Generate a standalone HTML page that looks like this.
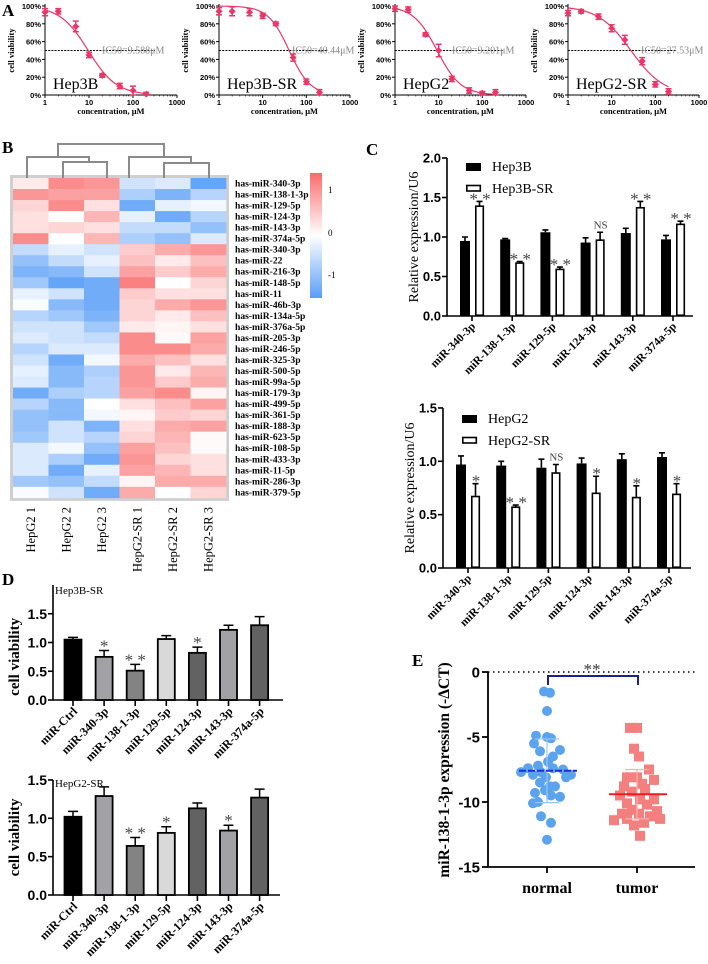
<!DOCTYPE html>
<html><head><meta charset="utf-8"><style>
html,body{margin:0;padding:0;background:#fff;}
svg{display:block;}
</style></head><body>
<svg id="fig" xmlns="http://www.w3.org/2000/svg" width="708" height="964" viewBox="0 0 708 964"></svg>
<script>
// ---------- DATA ----------
const concs = [1,2,5,10,20,50,100,200];
const hep3bVals = [93,94,77,45,22,10,5,1];
const hep3bErr = [4,3,6,3,2,3,5,2];
const hep3bSrVals = [94,94,93,89,80,42,15,3];
const hep3bSrErr = [4,5,4,3,2,4,3,3];
const hepg2Vals = [97,96,68,50,18,5,2,3];
const hepg2Err = [3,3,2,7,3,3,2,3];
const hepg2SrVals = [92,94,88,75,62,38,12,4];
const hepg2SrErr = [3,2,3,4,5,4,3,3];
const ic50s = [9.588,40.44,9.201,27.53];
const hills = [1.35,1.8,1.6,1.15];
const ic50Labels = ["IC50=9.588μM","IC50=40.44μM","IC50=9.201μM","IC50=27.53μM"];
const cellNames = ["Hep3B","Hep3B-SR","HepG2","HepG2-SR"];
const pctTicks = [0,20,40,60,80,100];
const concTicks = [1,10,100,1000];

const heatRows = ["has-miR-340-3p","has-miR-138-1-3p","has-miR-129-5p","has-miR-124-3p","has-miR-143-3p","has-miR-374a-5p","has-miR-340-3p","has-miR-22","has-miR-216-3p","has-miR-148-5p","has-miR-11","has-miR-46b-3p","has-miR-134a-5p","has-miR-376a-5p","has-miR-205-3p","has-miR-246-5p","has-miR-325-3p","has-miR-500-5p","has-miR-99a-5p","has-miR-179-3p","has-miR-499-5p","has-miR-361-5p","has-miR-188-3p","has-miR-623-5p","has-miR-108-5p","has-miR-433-3p","has-miR-11-5p","has-miR-286-3p","has-miR-379-5p"];
const heatCols = ["HepG2 1","HepG2 2","HepG2 3","HepG2-SR 1","HepG2-SR 2","HepG2-SR 3"];
const heatVals = [
[0.2,1.1,1.0,-0.4,-0.3,-1.3],[1.0,0.9,0.9,-0.7,-1.1,-0.6],[0.4,1.1,0.3,-1.2,-0.2,-0.1],[0.3,0.0,0.7,-0.2,-1.2,-0.6],
[0.3,0.4,0.3,-0.5,-0.5,-0.9],[1.1,0.0,0.7,-0.7,-0.9,-0.3],[-0.5,-0.2,-0.4,0.5,0.8,1.0],[-0.9,-0.5,-0.2,0.6,0.2,0.6],
[-1.1,-1.0,-0.4,0.9,0.5,0.8],[-0.8,-1.3,-1.2,1.2,0.0,0.4],[-0.2,-0.4,-1.2,0.5,0.3,0.3],[-0.05,-1.0,-1.2,0.4,0.8,1.0],
[-0.6,-0.8,-1.1,0.4,0.2,0.6],[-0.4,-0.4,-0.8,0.2,0.1,0.3],[-0.3,-0.4,-0.5,1.1,0.05,0.9],[-0.6,-0.3,-0.3,1.1,1.1,0.8],
[-0.4,-1.2,-0.1,0.8,0.6,0.3],[-0.2,-1.0,-0.7,1.0,0.2,0.7],[-0.3,-1.0,-0.6,1.0,0.5,0.8],[-1.2,-0.7,-0.6,0.9,1.1,0.1],
[-0.6,-1.0,0.0,0.3,0.6,0.9],[-0.9,-1.0,-0.1,0.1,0.5,0.4],[-0.9,-0.4,-1.1,0.3,0.8,0.9],[-0.8,-0.4,-0.6,0.4,0.7,0.05],
[-0.3,-0.1,-0.9,0.9,0.6,0.05],[-0.3,-0.7,-1.2,1.0,0.4,0.3],[-0.3,-1.2,-0.2,0.9,0.7,0.3],[-0.8,-0.9,-0.5,0.1,0.8,0.8],
[-0.05,-0.4,-1.2,0.8,0.0,0.4]];

const cCats = ["miR-340-3p","miR-138-1-3p","miR-129-5p","miR-124-3p","miR-143-3p","miR-374a-5p"];
const c1Ctrl = [0.95,0.97,1.06,0.93,1.05,0.97];
const c1CtrlErr = [0.05,0.01,0.03,0.06,0.06,0.05];
const c1Sr = [1.39,0.67,0.59,0.96,1.37,1.16];
const c1SrErr = [0.06,0.02,0.03,0.10,0.08,0.04];
const c1Sig = ["* *","* *","* *","NS","* *","* *"];
const c1Ticks = [0,0.5,1.0,1.5,2.0];
const c2Ctrl = [0.97,0.96,0.94,0.98,1.02,1.04];
const c2CtrlErr = [0.08,0.04,0.08,0.05,0.05,0.04];
const c2Sr = [0.67,0.57,0.89,0.70,0.66,0.69];
const c2SrErr = [0.12,0.02,0.08,0.16,0.11,0.10];
const c2Sig = ["*","* *","NS","*","*","*"];
const c2Ticks = [0,0.5,1.0,1.5];

const dCats = ["miR-Ctrl","miR-340-3p","miR-138-1-3p","miR-129-5p","miR-124-3p","miR-143-3p","miR-374a-5p"];
const d1Vals = [1.05,0.75,0.51,1.06,0.82,1.22,1.30];
const d1Err = [0.04,0.11,0.11,0.06,0.10,0.08,0.15];
const d1Sig = ["","*","* *","","*","",""];
const d2Vals = [1.02,1.29,0.64,0.81,1.13,0.84,1.27];
const d2Err = [0.07,0.12,0.11,0.08,0.07,0.07,0.11];
const d2Sig = ["","","* *","*","","*",""];
const dTicks = [0,0.5,1.0,1.5];
const dFills = ["#000","#a2a2a6","#838383","#d9d9d9","#626262","#a2a2a6","#626262"];

const eNormal = [-1.5,-1.6,-3.0,-4.9,-5.0,-5.1,-5.5,-6.1,-6.0,-6.5,-6.9,-7.2,-7.4,-7.4,-7.5,-7.7,-7.7,-7.9,-7.9,-8.1,-8.1,-8.5,-8.8,-8.8,-9.1,-9.3,-9.6,-9.5,-10.0,-10.1,-11.1,-11.6,-12.9];
const eNormalJit = [-3,3,0,-11,0,4,-13,-7,13,6,1,-9,-19,6,16,-26,-6,24,-14,-1,19,-7,3,8,-2,-12,13,4,-9,-14,-6,4,0];
const eTumor = [-4.3,-4.3,-5.9,-6.5,-7.5,-8.1,-8.3,-8.1,-8.6,-8.8,-9.2,-9.0,-9.5,-9.8,-9.8,-10.1,-10.2,-10.6,-10.7,-10.9,-11.4,-11.3,-11.1,-11.3,-11.8,-12.6,-11.6,-10.9];
const eTumorJit = [0,-7,-3,2,12,-10,17,0,5,-13,-5,8,-17,17,3,-10,10,-5,20,2,-23,-10,13,23,-3,3,7,-15];
const eMeans = [-7.6,-9.4];
const eSDs = [2.45,1.9];
const eTicks = [0,-5,-10,-15];

// ---------- HELPERS ----------
const NS = "http://www.w3.org/2000/svg";
const svg = document.getElementById("fig");
const SERIF = "'Liberation Serif', 'DejaVu Serif', serif";
const SANS = "'Liberation Sans', 'DejaVu Sans', sans-serif";
function mk(tag, attrs, parent) {
  const el = document.createElementNS(NS, tag);
  for (const k in attrs) el.setAttribute(k, attrs[k]);
  (parent || svg).appendChild(el);
  return el;
}
function txt(str, attrs, parent) {
  const el = mk("text", attrs, parent);
  el.textContent = str;
  return el;
}
function grp(name) {
  const g = mk("g", {});
  
  
  return g;
}

// ---------- PANEL LETTERS ----------
const letters = [["A",2,16],["B",2,153],["C",366,155],["D",2,585],["E",412,666]];
for (const L of letters) {
  const t = txt(L[0], {x:L[1], y:L[2], "font-family":SERIF, "font-weight":"bold", "font-size":17});
  
  
}

// ---------- PANEL A ----------
const aBoxes = [[45,177],[219,350],[395,526],[568,699]];
const aVals = [hep3bVals,hep3bSrVals,hepg2Vals,hepg2SrVals];
const aErrs = [hep3bErr,hep3bSrErr,hepg2Err,hepg2SrErr];
for (let p = 0; p < 4; p++) {
  const g = grp('ic50-chart-' + cellNames[p].toLowerCase());
  const x0 = aBoxes[p][0], x1 = aBoxes[p][1], yT = 6, yB = 95;
  const xs = c => x0 + Math.log10(c) / 3 * (x1 - x0);
  const ys = v => yB - v / 100 * (yB - yT);
  const ya = mk("line", {x1:x0, y1:yT-2, x2:x0, y2:yB, stroke:"#000", "stroke-width":1}, g);
  
  const xa = mk("line", {x1:x0, y1:yB, x2:x1, y2:yB, stroke:"#000", "stroke-width":1}, g);
  
  for (const t of pctTicks) {
    const l = mk("line", {x1:x0-3, y1:ys(t), x2:x0, y2:ys(t), stroke:"#000"}, g);
    
    const tl = txt(t + "%", {x:x0-4, y:ys(t)+3, "text-anchor":"end", "font-family":SANS, "font-weight":"bold", "font-size":7.5}, g);
    
  }
  for (const c of concTicks) {
    const l = mk("line", {x1:xs(c), y1:yB, x2:xs(c), y2:yB+3, stroke:"#000"}, g);
    
    const tl = txt(String(c), {x:xs(c), y:yB+10, "text-anchor":"middle", "font-family":SANS, "font-weight":"bold", "font-size":7.5}, g);
    
  }
  for (let d = 1; d < 1000; d *= 10) for (let m = 2; m < 10; m++) {
    const ml = mk("line", {x1:xs(d*m), y1:yB, x2:xs(d*m), y2:yB+1.5, stroke:"#000", "stroke-width":0.6}, g);
    
  }
  const yl = txt("cell viability", {x:0, y:0, transform:`translate(${x0-31},${(yT+yB)/2}) rotate(-90)`, "text-anchor":"middle", "font-family":SERIF, "font-weight":"bold", "font-size":8.5}, g);
  
  const xl = txt("concentration, μM", {x:(x0+x1)/2, y:yB+19, "text-anchor":"middle", "font-family":SERIF, "font-weight":"bold", "font-size":8.5}, g);
  
  const dl = mk("line", {x1:x0, y1:ys(50), x2:x1-22, y2:ys(50), stroke:"#000", "stroke-width":1, "stroke-dasharray":"2,1.2"}, g);
  
  const it = txt(ic50Labels[p], {x:x0+(p==0||p==2?57:73), y:ys(50)+3, "font-family":SERIF, "font-size":10, fill:"#888"}, g);
  
  let d = "";
  for (let i = 0; i <= 120; i++) {
    const lc = Math.log10(200) * i / 120;
    const c = Math.pow(10, lc);
    const v = 100 / (1 + Math.pow(c / ic50s[p], hills[p]));
    d += (i ? "L" : "M") + xs(c).toFixed(2) + "," + ys(v).toFixed(2);
  }
  const cv = mk("path", {d:d, fill:"none", stroke:"#e8386a", "stroke-width":1.2}, g);
  
  for (let i = 0; i < concs.length; i++) {
    const cx = xs(concs[i]), v = aVals[p][i], e = aErrs[p][i];
    const eb = mk("path", {d:`M${cx},${ys(v+e)}V${ys(Math.max(0,v-e))}M${cx-3},${ys(v+e)}h6M${cx-3},${ys(Math.max(0,v-e))}h6`, stroke:"#e8386a", "stroke-width":1.5, fill:"none"}, g);
    
    const pt = mk("rect", {x:cx-2.5, y:ys(v)-2.5, width:5, height:5, fill:"#e8386a", transform:`rotate(45 ${cx} ${ys(v)})`}, g);
    
  }
  const nm = txt(cellNames[p], {x:x0+8, y:yB-6, "font-family":SERIF, "font-size":16}, g);
  
}

// ---------- PANEL B (heatmap) ----------
const gB = grp('heatmap');
const hx0 = 13, hy0 = 178, cw = 35.5, rh = 11.03;
function heatColor(v) {
  const t = Math.min(1, Math.abs(v) / 1.4);
  const tgt = v >= 0 ? [250,108,108] : [88,158,247];
  const c = tgt.map(k => Math.round(255 + (k - 255) * t));
  return `rgb(${c[0]},${c[1]},${c[2]})`;
}
const hb = mk("rect", {x:hx0-1.5, y:hy0-1.5, width:cw*6+3, height:rh*29+3, fill:"none", stroke:"#cfcfcf", "stroke-width":3}, gB);

for (let r = 0; r < heatRows.length; r++) {
  for (let c = 0; c < heatCols.length; c++) {
    const cell = mk("rect", {x:hx0+c*cw, y:hy0+r*rh, width:cw+0.3, height:rh+0.3, fill:heatColor(heatVals[r][c])}, gB);
    
  }
  const rl = txt(heatRows[r], {x:235, y:hy0+r*rh+8.5, "font-family":SERIF, "font-weight":"bold", "font-size":9.6}, gB);
  
}
for (let c = 0; c < heatCols.length; c++) {
  const cx = hx0 + c*cw + cw/2 + 4;
  const cl = txt(heatCols[c], {x:0, y:0, transform:`translate(${cx},507) rotate(-90)`, "text-anchor":"end", "font-family":SERIF, "font-size":12.5}, gB);
  
}
const dendro = mk("path", {d:"M27,178V157H89V162M63,178V162H107V178M129,178V157H191V163M164,178V163H209V178M58,157V144H164V157", fill:"none", stroke:"#8a8a8a", "stroke-width":2}, gB);

const defs = mk("defs", {});
const lg = mk("linearGradient", {id:"cbar", x1:0, y1:0, x2:0, y2:1}, defs);
mk("stop", {offset:"0", "stop-color":"rgb(250,108,108)"}, lg);
mk("stop", {offset:"0.5", "stop-color":"#fff"}, lg);
mk("stop", {offset:"1", "stop-color":"rgb(88,158,247)"}, lg);
const cb = mk("rect", {x:310, y:173, width:12, height:125, fill:"url(#cbar)"}, gB);

const cbLabels = [["1",193],["0",236],["-1",278]];
for (const l of cbLabels) {
  const t = txt(l[0], {x:328, y:l[1], "font-family":SERIF, "font-size":9}, gB);
  
}

// ---------- PANEL C ----------
function drawC(name, axisX, xEnd, y0, ppu, ticks, ctrl, ctrlErr, sr, srErr, sig, leg, legY, firstOff) {
  const g = grp(name);
  const ys = v => y0 - v * ppu;
  const xc = i => axisX + firstOff + i * 40.2;
  const ya = mk("line", {x1:axisX, y1:ys(ticks[ticks.length-1]), x2:axisX, y2:y0, stroke:"#000", "stroke-width":1.6}, g);
  
  const xa = mk("line", {x1:axisX, y1:y0, x2:xEnd, y2:y0, stroke:"#000", "stroke-width":1.6}, g);
  
  for (const t of ticks) {
    const l = mk("line", {x1:axisX-5, y1:ys(t), x2:axisX, y2:ys(t), stroke:"#000", "stroke-width":1.6}, g);
    
    const tl = txt(t.toFixed(1), {x:axisX-6, y:ys(t)+4.5, "text-anchor":"end", "font-family":SANS, "font-weight":"bold", "font-size":13}, g);
    
  }
  for (let i = 0; i < cCats.length; i++) {
    const c = xc(i);
    const b1 = mk("rect", {x:c-12, y:ys(ctrl[i]), width:10, height:ctrl[i]*ppu, fill:"#000"}, g);
    
    const e1 = mk("path", {d:`M${c-7},${ys(ctrl[i])}V${ys(ctrl[i]+ctrlErr[i])}M${c-10},${ys(ctrl[i]+ctrlErr[i])}h6`, stroke:"#000", "stroke-width":1.6, fill:"none"}, g);
    
    const b2 = mk("rect", {x:c+3.8, y:ys(sr[i]), width:7.5, height:sr[i]*ppu-0.8, fill:"#fff", stroke:"#000", "stroke-width":1.6}, g);
    
    const e2 = mk("path", {d:`M${c+7.5},${ys(sr[i])}V${ys(sr[i]+srErr[i])}M${c+4.5},${ys(sr[i]+srErr[i])}h6`, stroke:"#000", "stroke-width":1.6, fill:"none"}, g);
    
    const s = txt(sig[i], {x:c+8, y:ys(sr[i]+srErr[i]) - (sig[i]=="NS"?4:-3), "text-anchor":"middle", "font-family":SERIF, "font-size":sig[i]=="NS"?11:17, fill:"#444"}, g);
    
    const tk = mk("line", {x1:c, y1:y0, x2:c, y2:y0+5, stroke:"#000", "stroke-width":1.6}, g);
    
    const xl = txt(cCats[i], {x:0, y:0, transform:`translate(${c+4},${y0+11}) rotate(-45)`, "text-anchor":"end", "font-family":SERIF, "font-weight":"bold", "font-size":11.5}, g);
    
  }
  const ytl = txt("Relative expression/U6", {x:0, y:0, transform:`translate(${axisX-29},${(ys(ticks[ticks.length-1])+y0)/2}) rotate(-90)`, "text-anchor":"middle", "font-family":SERIF, "font-size":14}, g);
  
  const lx = axisX + 19;
  const l1 = mk("rect", {x:lx, y:legY, width:15, height:8, fill:"#000"}, g);
  
  const l1t = txt(leg[0], {x:lx+26, y:legY+8, "font-family":SERIF, "font-size":14}, g);
  
  const l2 = mk("rect", {x:lx+0.8, y:legY+22.5, width:13.5, height:5.5, fill:"#fff", stroke:"#000", "stroke-width":1.6}, g);
  
  const l2t = txt(leg[1], {x:lx+26, y:legY+30, "font-family":SERIF, "font-size":14}, g);
  
}
drawC('expression-chart-hep3b', 447, 693, 316, 79, c1Ticks, c1Ctrl, c1CtrlErr, c1Sr, c1SrErr, c1Sig, ["Hep3B","Hep3B-SR"], 163, 25);
drawC('expression-chart-hepg2', 443, 691, 568, 106.7, c2Ticks, c2Ctrl, c2CtrlErr, c2Sr, c2SrErr, c2Sig, ["HepG2","HepG2-SR"], 415, 25);

// ---------- PANEL D ----------
function drawD(name, axisX, xEnd, y0, ppu, topV, vals, errs, sig, title, titleY) {
  const g = grp(name);
  const ys = v => y0 - v * ppu;
  const xc = i => axisX + 20 + i * 31.1;
  const ya = mk("line", {x1:axisX, y1:ys(topV), x2:axisX, y2:y0, stroke:"#000", "stroke-width":1.6}, g);
  
  const xa = mk("line", {x1:axisX, y1:y0, x2:xEnd, y2:y0, stroke:"#000", "stroke-width":1.6}, g);
  
  for (const t of dTicks) {
    const l = mk("line", {x1:axisX-5, y1:ys(t), x2:axisX, y2:ys(t), stroke:"#000", "stroke-width":1.6}, g);
    
    const tl = txt(t.toFixed(1), {x:axisX-6, y:ys(t)+5, "text-anchor":"end", "font-family":SANS, "font-weight":"bold", "font-size":14}, g);
    
  }
  for (let i = 0; i < dCats.length; i++) {
    const c = xc(i);
    const eb = mk("path", {d:`M${c},${ys(vals[i])}V${ys(vals[i]+errs[i])}M${c-5},${ys(vals[i]+errs[i])}h10`, stroke:"#000", "stroke-width":1.5, fill:"none"}, g);
    
    const b = mk("rect", {x:c-8.5, y:ys(vals[i]), width:17, height:vals[i]*ppu, fill:dFills[i], stroke:"#000", "stroke-width":1.8}, g);
    
    if (sig[i]) {
      const s = txt(sig[i], {x:c, y:ys(vals[i]+errs[i])+1, "text-anchor":"middle", "font-family":SERIF, "font-size":17, fill:"#444"}, g);
      
    }
    const tk = mk("line", {x1:c, y1:y0, x2:c, y2:y0+6, stroke:"#000", "stroke-width":1.6}, g);
    
    const xl = txt(dCats[i], {x:0, y:0, transform:`translate(${c+5},${y0+12}) rotate(-45)`, "text-anchor":"end", "font-family":SERIF, "font-weight":"bold", "font-size":12}, g);
    
  }
  const ytl = txt("cell viability", {x:0, y:0, transform:`translate(${axisX-34},${(ys(1.5)+y0)/2}) rotate(-90)`, "text-anchor":"middle", "font-family":SERIF, "font-weight":"bold", "font-size":15}, g);
  
  const tt = txt(title, {x:axisX+2, y:titleY, "font-family":SERIF, "font-size":11}, g);
  
}
drawD('viability-chart-hep3b-sr', 53, 283, 700, 57.5, 2.0, d1Vals, d1Err, d1Sig, "Hep3B-SR", 594);
drawD('viability-chart-hepg2-sr', 53, 280, 895, 76.7, 1.5, d2Vals, d2Err, d2Sig, "HepG2-SR", 787);

// ---------- PANEL E ----------
const gE = grp('scatter-chart-expression');
const eAx = 488, eY0 = 672, ePpu = 13.0;
const eys = v => eY0 - v * ePpu;
const eXc = [547, 637];
const eyax = mk("line", {x1:eAx, y1:eY0, x2:eAx, y2:eys(-15), stroke:"#000", "stroke-width":1.8}, gE);

const exax = mk("line", {x1:eAx, y1:eys(-15), x2:695, y2:eys(-15), stroke:"#000", "stroke-width":1.8}, gE);

const zl = mk("line", {x1:eAx, y1:eY0, x2:695, y2:eY0, stroke:"#000", "stroke-width":1.5, "stroke-dasharray":"1.5,3.5"}, gE);

for (const t of eTicks) {
  const l = mk("line", {x1:eAx-6, y1:eys(t), x2:eAx, y2:eys(t), stroke:"#000", "stroke-width":1.8}, gE);
  
  const tl = txt(String(t), {x:eAx-8, y:eys(t)+5.5, "text-anchor":"end", "font-family":SANS, "font-weight":"bold", "font-size":15}, gE);
  
}
const eCats = ["normal","tumor"];
for (let k = 0; k < 2; k++) {
  const tk = mk("line", {x1:eXc[k], y1:eys(-15), x2:eXc[k], y2:eys(-15)+6, stroke:"#000", "stroke-width":1.8}, gE);
  
  const xl = txt(eCats[k], {x:eXc[k], y:893, "text-anchor":"middle", "font-family":SERIF, "font-weight":"bold", "font-size":16}, gE);
  
}
const eytl = txt("miR-138-1-3p expression (-ΔCT)", {x:0, y:0, transform:"translate(449,770) rotate(-90)", "text-anchor":"middle", "font-family":SERIF, "font-weight":"bold", "font-size":15.5}, gE);

for (let i = 0; i < eNormal.length; i++) {
  const c = mk("circle", {cx:eXc[0]+eNormalJit[i], cy:eys(eNormal[i]), r:5, fill:"#5ba3ec"}, gE);
  
}
for (let i = 0; i < eTumor.length; i++) {
  const s = mk("rect", {x:eXc[1]+eTumorJit[i]-5, y:eys(eTumor[i])-5, width:10, height:10, fill:"#f47f7f"}, gE);
  
}
const eCol = ["#9cc6f2","#f6b0b0"], eMeanCol = ["#1f2ad6","#ee1c1c"];
for (let k = 0; k < 2; k++) {
  const sd = mk("path", {d:`M${eXc[k]},${eys(eMeans[k]+eSDs[k])}V${eys(eMeans[k]-eSDs[k])}M${eXc[k]-12},${eys(eMeans[k]+eSDs[k])}h24M${eXc[k]-12},${eys(eMeans[k]-eSDs[k])}h24`, stroke:eCol[k], "stroke-width":1.2, fill:"none"}, gE);
  
  const m = mk("line", {x1:eXc[k]-28, y1:eys(eMeans[k]), x2:eXc[k]+30, y2:eys(eMeans[k]), stroke:eMeanCol[k], "stroke-width":2, "stroke-dasharray":k==0?"7,2":""}, gE);
  
}
const br = mk("path", {d:`M${eXc[0]+1},685V676H${eXc[1]+1}V685`, stroke:"#1a2080", "stroke-width":2, fill:"none"}, gE);

const bs = txt("**", {x:(eXc[0]+eXc[1])/2, y:675, "text-anchor":"middle", "font-family":SERIF, "font-size":17, fill:"#333"}, gE);

</script>
</body></html>
